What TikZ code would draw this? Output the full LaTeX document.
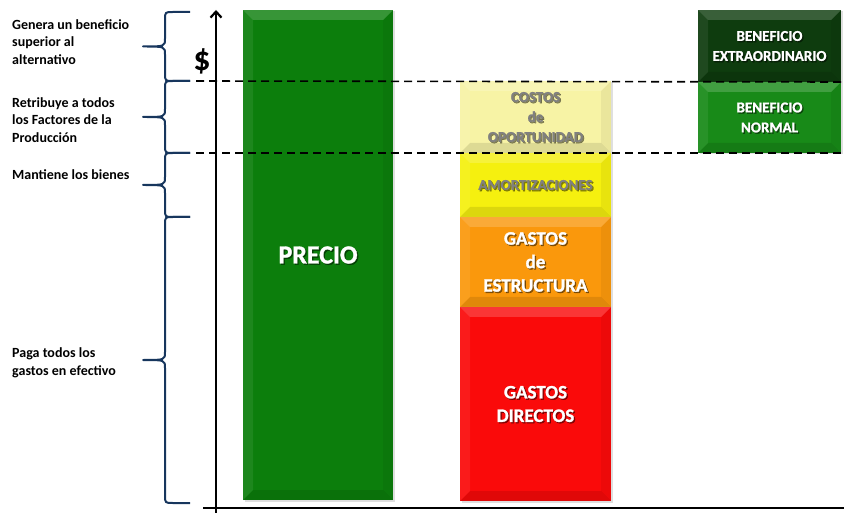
\documentclass[tikz,border=0pt]{standalone}
\usepackage{fontspec}
\setmainfont{Carlito}[BoldFont={Carlito Bold}]
\newfontfamily\barfont{Carlito}[BoldFont={Carlito Bold},BoldFeatures={FakeBold=1.3}]
\usetikzlibrary{positioning, arrows.meta, shadows}
\definecolor{precioc}{RGB}{12,126,12}
\definecolor{extrac}{RGB}{14,60,14}
\definecolor{normalc}{RGB}{24,138,24}
\definecolor{oportc}{RGB}{247,243,165}
\definecolor{amortc}{RGB}{245,240,15}
\definecolor{estrucc}{RGB}{250,152,12}
\definecolor{directc}{RGB}{250,10,10}
\definecolor{bracec}{RGB}{23,54,93}
\def\bb{path picture bounding box}
\tikzstyle{bar}=[rectangle,inner sep=0pt,outer sep=0pt,anchor=north west,
  drop shadow={opacity=.25,shadow xshift=1.5pt,shadow yshift=-1.5pt},
  path picture={
    \fill[white,opacity=.18] (\bb.north west) -- (\bb.north east) -- ([shift={(-10pt,-10pt)}]\bb.north east) -- ([shift={(10pt,-10pt)}]\bb.north west) -- cycle;
    \fill[white,opacity=.07] (\bb.north west) -- ([shift={(10pt,-10pt)}]\bb.north west) -- ([shift={(10pt,10pt)}]\bb.south west) -- (\bb.south west) -- cycle;
    \fill[black,opacity=.05] (\bb.north east) -- ([shift={(-10pt,-10pt)}]\bb.north east) -- ([shift={(-10pt,10pt)}]\bb.south east) -- (\bb.south east) -- cycle;
    \fill[black,opacity=.1] (\bb.south west) -- ([shift={(10pt,10pt)}]\bb.south west) -- ([shift={(-10pt,10pt)}]\bb.south east) -- (\bb.south east) -- cycle;}]
\tikzstyle{lbl}=[align=center,inner sep=0pt]
\tikzstyle{txtbig}=[font=\barfont\fontsize{26}{30}\selectfont\bfseries]
\tikzstyle{txtmid}=[font=\barfont\fontsize{19}{23.5}\selectfont\bfseries]
\tikzstyle{txtsmall}=[font=\barfont\fontsize{15}{20}\selectfont\bfseries]
\tikzstyle{side}=[align=left,anchor=west,inner sep=0pt,font=\fontsize{14}{17.5}\selectfont\bfseries]
\tikzstyle{guide}=[dash pattern=on 8pt off 5pt,line width=1.6pt]
\tikzstyle{axis}=[line width=2.2pt]
\tikzstyle{brace}=[bracec,line width=2pt,line join=round]

\begin{document}
\begin{tikzpicture}[x=1pt,y=-1pt]
  \useasboundingbox (0,0) rectangle (844,513);
  % bars
  \node[bar,fill=precioc,minimum width=150pt,minimum height=490pt] (precio) at (243,10) {};
  \node[bar,fill=oportc,minimum width=151pt,minimum height=72pt] (oportunidad) at (460,81) {};
  \node[bar,fill=amortc,minimum width=151pt,minimum height=64pt,below=0pt of oportunidad] (amortiz) {};
  \node[bar,fill=estrucc,minimum width=151pt,minimum height=90pt,below=0pt of amortiz] (estructura) {};
  \node[bar,fill=directc,minimum width=151pt,minimum height=194pt,below=0pt of estructura] (directos) {};
  \node[bar,fill=extrac,minimum width=143pt,minimum height=72pt] (extra) at (698,10) {};
  \node[bar,fill=normalc,minimum width=143pt,minimum height=71pt,below=0pt of extra] (normal) {};
  % texts on the bars
  \foreach \n/\t/\c/\s in {precio/PRECIO/white/txtbig, oportunidad/{COSTOS\\de\\OPORTUNIDAD}/gray/txtsmall,
      amortiz/AMORTIZACIONES/gray/txtsmall, estructura/{GASTOS\\de\\ESTRUCTURA}/white/txtmid,
      directos/{GASTOS\\DIRECTOS}/white/txtmid, extra/{BENEFICIO\\EXTRAORDINARIO}/white/txtsmall,
      normal/{BENEFICIO\\NORMAL}/white/txtsmall} {
    \node[lbl,\s,text=black,opacity=.45] (\n-s) at ([shift={(1.3pt,-1.3pt)}]\n.center) {\t};
    \node[lbl,\s,text=\c] (\n-t) at (\n.center) {\t};}
  % axes
  \coordinate (o) at (216,513);
  \coordinate (ytop) at (216,10);
  \coordinate (x0) at (203,508);
  \coordinate (xend) at (844,508);
  \draw[axis,-{Straight Barb[length=6pt,width=11pt]}] (o) -- (ytop);
  \draw[axis] (x0) -- (xend);
  \node[font=\fontsize{34}{34}\selectfont\bfseries] (dollar) at (202,61) {\$};
  % levels
  \coordinate (g1) at (196,81);
  \coordinate (g2) at (196,153);
  \draw[guide] (g1) -- (extra.south east);
  \draw[guide] (g2) -- (normal.south east);
  % braces and notes
  \foreach \a/\b/\ty/\t [count=\i] in {12/81/42/{Genera un beneficio\\superior al\\alternativo},
      81/153/120/{Retribuye a todos\\los Factores de la\\Producción}, 153/217/175/{Mantiene los bienes},
      217/503/363/{Paga todos los\\gastos en efectivo}} {
    \pgfmathsetmacro\m{(\a+\b)/2}
    \draw[brace] (190,\a) -- (173,\a) .. controls (165,\a) .. (165,\a+8) -- (165,\m-8)
      .. controls (165,\m) .. (143,\m) .. controls (165,\m) .. (165,\m+8) -- (165,\b-8)
      .. controls (165,\b) .. (173,\b) -- (190,\b);
    \node[side] (note\i) at (12,\ty) {\t};}
\end{tikzpicture}
\end{document}
